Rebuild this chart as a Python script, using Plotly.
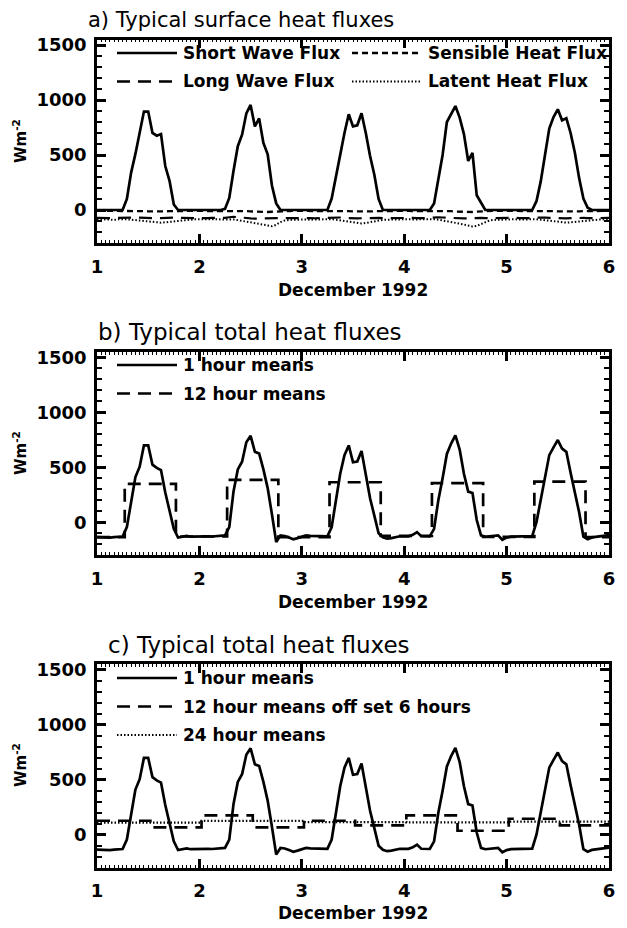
import numpy as np
import plotly.graph_objects as go
from plotly.subplots import make_subplots

FONT = "DejaVu Sans"
W, H = 627, 928

# hourly samples, hour 0 = 1 December 1992 00:00
hours = np.arange(121)

short_wave = [
    0, 0, 0, 0, 0, 0, 0, 100, 340, 510, 690, 895, 895, 700, 675, 690, 400, 265, 50, 0,
    0, 0, 0, 0, 0, 0, 0, 0, 0, 0,
    10, 110, 357, 580, 685, 878, 955, 760, 833, 610, 506, 223, 60, 0,
    0, 0, 0, 0, 0, 0, 0, 0, 0, 0,
    0, 104, 310, 500, 700, 870, 760, 770, 880, 700, 490, 320, 100, 0,
    0, 0, 0, 0, 0, 0, 0, 0, 0, 0,
    0, 60, 270, 500, 800, 875, 945, 840, 690, 446, 520, 134, 60, 0,
    0, 0, 0, 0, 0, 0, 0, 0, 0, 0,
    0, 80, 260, 500, 740, 845, 915, 815, 835, 700, 520, 290, 104, 20, 0,
    0, 0, 0, 0,
]
sensible = [
    -8, -8, -9, -9, -8, -8, -7, -6, -5, -6, -8, -10, -12, -13, -14, -14, -12, -10, -9, -9, -8, -8, -8, -8,
    -8, -9, -9, -8, -8, -8, -7, -5, -4, -6, -8, -10, -13, -15, -16, -17, -18, -16, -13, -10, -9, -9, -8, -8,
    -8, -8, -9, -9, -8, -8, -7, -6, -5, -6, -9, -11, -13, -14, -15, -16, -15, -12, -10, -9, -9, -8, -8, -8,
    -8, -8, -9, -9, -8, -8, -7, -6, -5, -6, -8, -11, -14, -16, -18, -19, -18, -15, -12, -10, -9, -8, -8, -8,
    -8, -8, -9, -9, -8, -8, -7, -6, -5, -6, -8, -10, -12, -13, -14, -15, -14, -12, -10, -9, -9, -8, -8, -8, -8,
]
long_wave = [
    -72, -74, -73, -75, -74, -72, -70, -68, -66, -68, -70, -72, -74, -76, -75, -73, -70, -68, -70, -72, -74, -73, -72, -74,
    -73, -75, -74, -72, -73, -74, -72, -66, -62, -65, -70, -74, -76, -78, -76, -74, -72, -70, -74, -75, -73, -74, -75, -73,
    -74, -72, -73, -75, -74, -73, -72, -68, -65, -68, -71, -74, -76, -77, -75, -73, -71, -69, -72, -74, -73, -75, -74, -72,
    -73, -74, -72, -73, -75, -74, -72, -68, -66, -68, -71, -74, -77, -79, -77, -75, -72, -70, -72, -74, -73, -72, -74, -75,
    -73, -74, -72, -73, -74, -75, -73, -69, -66, -68, -71, -73, -75, -77, -76, -74, -72, -70, -72, -74, -73, -72, -74, -73, -72,
]
latent = [
    -85, -88, -84, -86, -90, -85, -82, -84, -88, -92, -96, -100, -104, -108, -112, -115, -112, -108, -100, -95, -90, -86, -88, -85,
    -84, -86, -88, -85, -83, -86, -84, -82, -86, -92, -98, -104, -110, -116, -122, -130, -140, -148, -135, -110, -95, -90, -88, -86,
    -85, -86, -88, -84, -86, -85, -83, -84, -88, -94, -100, -106, -112, -118, -122, -118, -110, -100, -94, -90, -88, -86, -85, -87,
    -85, -84, -86, -88, -85, -84, -82, -84, -88, -94, -100, -108, -116, -124, -132, -142, -150, -145, -130, -110, -95, -90, -88, -86,
    -85, -86, -84, -87, -86, -85, -83, -84, -88, -92, -98, -104, -108, -112, -115, -112, -108, -104, -98, -94, -90, -88, -86, -85, -86,
]
total_1h = [
    -135, -138, -140, -140, -135, -130, -130,
    -44, 190, 410, 505, 698, 698, 523, 494, 474, 270, 110, -60, -140,
    -135, -125, -132, -130, -132, -130, -128, -130, -128, -125,
    -120, -44, 280, 480, 550, 727, 785, 640, 625, 480, 310, 73, -180, -120,
    -125, -140, -155, -145, -130, -120, -125, -125, -130, -125, -128,
    -44, 210, 440, 610, 698, 545, 552, 648, 430, 218, 60, -100, -137,
    -150, -145, -135, -128, -128, -128, -115, -90, -128, -130, -130,
    -60, 200, 400, 620, 715, 790, 660, 440, 278, 265, 20, -120,
    -132, -130, -128, -120, -160, -140, -131, -131, -131, -130, -128, -126,
    0, 200, 420, 610, 680, 747, 669, 640, 450, 270, 90, -131,
    -154, -138, -132, -128, -120, -118,
]

# block means: edges in hours, one value per block
mean12_edges = [0, 6.5, 18.5, 30.5, 42.5, 54.5, 66.5, 78.5, 90.5, 102.5, 114.5, 120]
mean12_vals = [-135, 349, -130, 384, -135, 363, -125, 355, -133, 369, -135]
mean12_off_edges = [0, 12.5, 24.5, 36.5, 48.5, 60.5, 72.5, 84.5, 96.5, 108.5, 120]
mean12_off_vals = [127, 67, 176, 67, 127, 85, 176, 36, 145, 85]
mean24_edges = [0, 24.5, 48.5, 72.5, 96.5, 120]
mean24_vals = [110, 125, 115, 112, 118]

x_hourly = 1 + hours / 24


def steps(edges, vals):
    x = [1 + e / 24 for e in edges]
    return x, list(vals) + [vals[-1]]


SOLID = dict(color="black", width=2.7)
SHORT_DASH = dict(color="black", width=2.3, dash="6px,4px")
LONG_DASH = dict(color="black", width=2.7, dash="13px,8px")
DOTTED = dict(color="black", width=2.0, dash="1.5px,2px")

fig = make_subplots(rows=3, cols=1)

fig.add_trace(go.Scatter(x=x_hourly, y=short_wave, mode="lines", name="Short Wave Flux", line=SOLID), row=1, col=1)
fig.add_trace(go.Scatter(x=x_hourly, y=sensible, mode="lines", name="Sensible Heat Flux", line=SHORT_DASH), row=1, col=1)
fig.add_trace(go.Scatter(x=x_hourly, y=long_wave, mode="lines", name="Long Wave Flux",
                         line=dict(LONG_DASH, width=2.2)), row=1, col=1)
fig.add_trace(go.Scatter(x=x_hourly, y=latent, mode="lines", name="Latent Heat Flux", line=DOTTED), row=1, col=1)

fig.add_trace(go.Scatter(x=x_hourly, y=total_1h, mode="lines", name="1 hour means", line=SOLID), row=2, col=1)
sx, sy = steps(mean12_edges, mean12_vals)
fig.add_trace(go.Scatter(x=sx, y=sy, mode="lines", name="12 hour means", line_shape="hv", line=LONG_DASH), row=2, col=1)

fig.add_trace(go.Scatter(x=x_hourly, y=total_1h, mode="lines", name="1 hour means", line=SOLID), row=3, col=1)
sx, sy = steps(mean12_off_edges, mean12_off_vals)
fig.add_trace(go.Scatter(x=sx, y=sy, mode="lines", name="12 hour means off set 6 hours", line_shape="hv",
                         line=LONG_DASH), row=3, col=1)
sx, sy = steps(mean24_edges, mean24_vals)
fig.add_trace(go.Scatter(x=sx, y=sy, mode="lines", name="24 hour means", line_shape="hv",
                         line=dict(DOTTED, width=2.3)), row=3, col=1)

tickfont = dict(family=FONT, size=18, color="black", weight="bold")

x_dom = [97 / W, 609 / W]
y_doms = [[1 - 243 / H, 1 - 39.5 / H], [1 - 555.2 / H, 1 - 351.7 / H], [1 - 867.7 / H, 1 - 664.2 / H]]

for r in range(1, 4):
    fig.update_xaxes(row=r, col=1, domain=x_dom, range=[1, 6], tick0=1, dtick=1, automargin=False,
                     ticks="inside", ticklen=9, tickwidth=2.8, tickcolor="black",
                     showline=True, linewidth=2.8, linecolor="black", mirror="ticks",
                     showgrid=False, zeroline=False, tickfont=tickfont, ticklabelstandoff=5,
                     minor=dict(dtick=1 / 24, ticks="inside", ticklen=3, tickwidth=1, tickcolor="black"))
    fig.update_yaxes(row=r, col=1, domain=y_doms[r - 1], range=[-300, 1550], automargin=False,
                     tickvals=[0, 500, 1000, 1500],
                     ticks="inside", ticklen=9, tickwidth=2.8, tickcolor="black",
                     showline=True, linewidth=2.8, linecolor="black", mirror="ticks",
                     showgrid=False, zeroline=False, tickfont=tickfont, ticklabelstandoff=4,
                     minor=dict(dtick=100, ticks="inside", ticklen=5, tickwidth=2, tickcolor="black"))

annotations = []
shapes = []


def text(t, px, py, size, anchor="left", bold=True, angle=0):
    annotations.append(dict(text=t, x=px / W, y=1 - py / H, xref="paper", yref="paper",
                            xanchor=anchor, yanchor="middle", showarrow=False, textangle=angle,
                            font=dict(family=FONT, size=size, color="black",
                                      weight="bold" if bold else "normal")))


def legend_item(label, style, x0, x1, py):
    shapes.append(dict(type="line", xref="paper", yref="paper", x0=x0 / W, x1=x1 / W,
                       y0=1 - py / H, y1=1 - py / H, line=style))
    text(label, x1 + 4, py, 17)


# panel titles
text("a) Typical surface heat fluxes", 86, 20, 21, bold=False)
text("b) Typical total heat fluxes", 96, 332, 23, bold=False)
text("c) Typical total heat fluxes", 106, 645, 23, bold=False)

for xt_y, yt_y in [(290, 141), (602, 453), (913, 765)]:
    text("December 1992", 353, xt_y, 17, anchor="center")
    text("Wm<sup>-2</sup>", 20, yt_y, 15, anchor="center", angle=-90)

# legends
legend_item("Short Wave Flux", SOLID, 117, 177, 53)
legend_item("Sensible Heat Flux", SHORT_DASH, 352, 422, 53)
legend_item("Long Wave Flux", LONG_DASH, 117, 177, 81.5)
legend_item("Latent Heat Flux", DOTTED, 352, 422, 81.5)

legend_item("1 hour means", SOLID, 117, 177, 365)
legend_item("12 hour means", LONG_DASH, 117, 177, 393.5)

legend_item("1 hour means", SOLID, 117, 177, 678)
legend_item("12 hour means off set 6 hours", LONG_DASH, 117, 177, 706.5)
legend_item("24 hour means", DOTTED, 117, 177, 735)

fig.update_layout(
    width=W, height=H,
    margin=dict(l=0, r=0, t=0, b=0, autoexpand=False),
    paper_bgcolor="white", plot_bgcolor="white",
    showlegend=False,
    hovermode=False,
    annotations=annotations,
    shapes=shapes,
)

# drop the browser's default 8px body margin so the figure sits at the page corner
fig.write_html("out.html", config={"displayModeBar": False},
               post_script="document.body.style.margin = '0px';")
